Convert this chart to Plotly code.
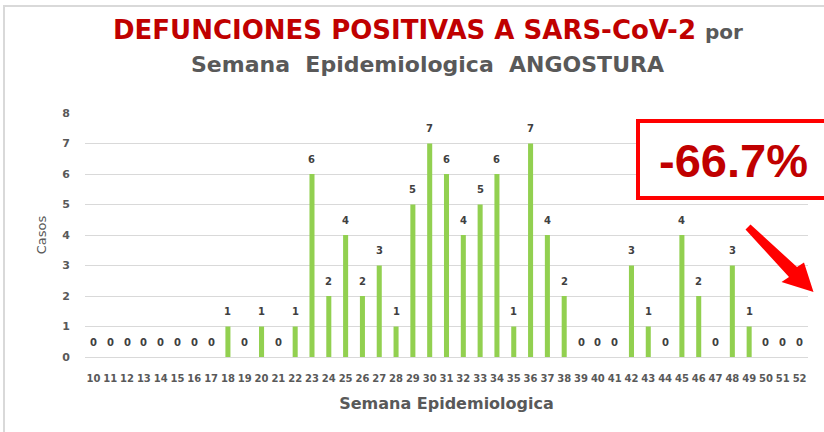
import plotly.graph_objects as go

weeks = [str(w) for w in range(10, 53)]
casos = [0, 0, 0, 0, 0, 0, 0, 0, 1, 0, 1, 0, 1, 6, 2, 4, 2, 3, 1, 5, 7, 6, 4, 5, 6, 1, 7, 4, 2,
         0, 0, 0, 3, 1, 0, 4, 2, 0, 3, 1, 0, 0, 0]
y_ticks = [0, 1, 2, 3, 4, 5, 6, 7, 8]
title_line1 = "DEFUNCIONES POSITIVAS A SARS-CoV-2"
title_por = "por"
title_line2 = "Semana  Epidemiologica  ANGOSTURA"
change_text = "-66.7%"

W, H = 824, 432
L, R, T, B = 85, 16, 113, 75
PW, PH = W - L - R, H - T - B


def px(x):
    return (x - L) / PW


def py(y):
    return (H - B - y) / PH


GRAY = "#595959"
FONT = "'DejaVu Sans', sans-serif"

fig = go.Figure()
fig.add_trace(go.Bar(x=weeks, y=casos, marker_color="#92D050", marker_line_width=0,
                     hoverinfo="x+y"))

annotations = []
for i, v in enumerate(casos):
    annotations.append(dict(x=i, y=v, xref="x", yref="y", text=str(v), showarrow=False,
                            yshift=15, font=dict(family=FONT, size=10, color="#404040",
                                                 weight="bold")))

# titles
annotations.append(dict(x=px(428), y=py(30), xref="paper", yref="paper", showarrow=False,
                        xanchor="center", yanchor="middle",
                        text=f"<b><span style='color:#C00000'>{title_line1}</span> "
                             f"<span style='font-size:20px;color:{GRAY}'>{title_por}</span></b>",
                        font=dict(family=FONT, size=26, color="#C00000")))
annotations.append(dict(x=px(427), y=py(64), xref="paper", yref="paper", showarrow=False,
                        xanchor="center", yanchor="middle",
                        text=f"<b>{title_line2}</b>",
                        font=dict(family=FONT, size=22, color=GRAY)))
annotations.append(dict(x=px(733), y=py(160), xref="paper", yref="paper", showarrow=False,
                        xanchor="center", yanchor="middle", text=f"<b>{change_text}</b>",
                        font=dict(family="Liberation Sans, Arial, sans-serif", size=47,
                                  color="#C00000")))

shapes = [
    dict(type="rect", xref="paper", yref="paper", x0=px(4), x1=px(840), y0=py(6), y1=py(450),
         line=dict(color="#D9D9D9", width=2), layer="below"),
    dict(type="rect", xref="paper", yref="paper", x0=px(638), x1=px(840), y0=py(121), y1=py(198),
         line=dict(color="#FF0000", width=4), fillcolor="white", layer="above"),
]
# arrow polygon (pixel coords)
arrow_pts = [(745.5, 229.5), (750.5, 224.5), (797, 267), (804, 262.5), (813.5, 292),
             (781.5, 282), (789, 277)]
path = "M " + " L ".join(f"{px(x)},{py(y)}" for x, y in arrow_pts) + " Z"
shapes.append(dict(type="path", xref="paper", yref="paper", path=path,
                   fillcolor="#FF0000", line=dict(color="#FF0000", width=0), layer="above"))

fig.update_layout(
    width=W, height=H,
    margin=dict(l=L, r=R, t=T, b=B),
    paper_bgcolor="white", plot_bgcolor="white",
    showlegend=False,
    bargap=0.7,
    annotations=annotations,
    shapes=shapes,
    font=dict(family=FONT, color=GRAY),
)
fig.update_xaxes(type="category", tickfont=dict(family=FONT, size=10, color=GRAY, weight="bold"),
                 ticks="", showgrid=False, showline=False, tickangle=0, ticklabelstandoff=14,
                 title=dict(text="<b>Semana Epidemiologica</b>", standoff=14,
                            font=dict(family=FONT, size=16, color=GRAY)))
fig.update_yaxes(range=[0, 8], tickvals=y_ticks, showgrid=True, gridcolor="#D9D9D9",
                 gridwidth=1, zeroline=True, zerolinecolor="#D9D9D9", zerolinewidth=1,
                 ticks="", ticklabelstandoff=14,
                 tickfont=dict(family=FONT, size=11, color=GRAY, weight="bold"),
                 title=dict(text="Casos", standoff=12,
                            font=dict(family=FONT, size=13, color=GRAY)))

fig.write_html("out.html", config={"displayModeBar": False},
               post_script="document.body.style.margin='0';")
